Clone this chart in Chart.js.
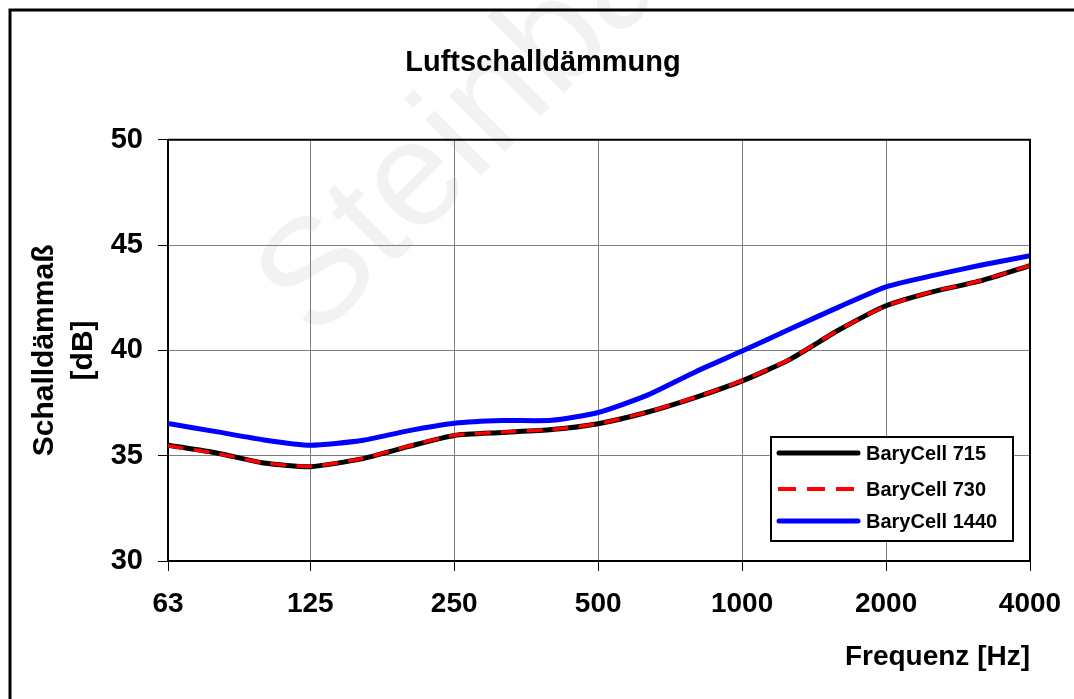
<!DOCTYPE html>
<html>
<head>
<meta charset="utf-8">
<script src="https://cdn.jsdelivr.net/npm/chart.js@4/dist/chart.umd.min.js"></script>
<style>
html,body{margin:0;padding:0;background:#fff;}
#wrap{width:1074px;height:699px;position:relative;}
</style>
</head>
<body>
<div id="wrap"><canvas id="c" width="1074" height="699"></canvas></div>
<script>
const chartTitle = 'Luftschalldämmung';
const yTitle = ['Schalldämmaß', '[dB]'];
const xTitle = 'Frequenz [Hz]';
const xTickValues = [63, 125, 250, 500, 1000, 2000, 4000];
const yTickValues = [30, 35, 40, 45, 50];
const frequencies = [63, 80, 100, 125, 160, 200, 250, 315, 400, 500, 630, 800, 1000, 1250, 1600, 2000, 2500, 3150, 4000];
const seriesNames = ['BaryCell 715', 'BaryCell 730', 'BaryCell 1440'];
const bary715  = [35.50, 35.12, 34.65, 34.48, 34.85, 35.43, 35.96, 36.10, 36.24, 36.52, 37.05, 37.77, 38.55, 39.54, 40.99, 42.12, 42.78, 43.30, 44.03];
const bary730  = [35.47, 35.10, 34.66, 34.49, 34.86, 35.45, 35.97, 36.12, 36.25, 36.52, 37.06, 37.78, 38.56, 39.55, 41.00, 42.11, 42.79, 43.31, 44.04];
const bary1440 = [36.53, 36.13, 35.75, 35.50, 35.72, 36.18, 36.54, 36.67, 36.68, 37.05, 37.85, 38.99, 39.97, 40.98, 42.08, 43.02, 43.55, 44.04, 44.50];

const FONT = "'Liberation Sans', Arial, sans-serif";
const toPoints = vals => frequencies.map((f, i) => ({x: f, y: vals[i]}));

const decorPlugin = {
  id: 'decor',
  beforeDraw(chart) {
    const ctx = chart.ctx;
    ctx.save();
    ctx.fillStyle = '#ffffff';
    ctx.fillRect(0, 0, chart.width, chart.height);
    // watermark
    ctx.translate(315, 342);
    ctx.rotate(-Math.PI / 4);
    ctx.fillStyle = 'rgba(0,0,0,0.05)';
    ctx.font = '150px ' + FONT;
    ctx.textBaseline = 'alphabetic';
    ctx.textAlign = 'left';
    ctx.fillText('Steinbach', 0, 0);
    ctx.restore();
    // outer frame (left and top visible)
    ctx.save();
    ctx.strokeStyle = '#000';
    ctx.lineWidth = 3;
    ctx.beginPath();
    ctx.moveTo(10, chart.height + 5);
    ctx.lineTo(10, 10);
    ctx.lineTo(chart.width + 5, 10);
    ctx.stroke();
    ctx.restore();
  },
  afterDatasetsDraw(chart) {
    const {ctx, chartArea: a} = chart;
    ctx.save();
    ctx.strokeStyle = '#000';
    ctx.lineWidth = 2;
    ctx.beginPath();
    ctx.moveTo(a.left, a.top);
    ctx.lineTo(a.right, a.top);
    ctx.lineTo(a.right, a.bottom);
    ctx.stroke();
    ctx.restore();
  },
  afterDraw(chart) {
    const ctx = chart.ctx;
    const ds = chart.data.datasets;
    ctx.save();
    // legend box
    ctx.fillStyle = '#fff';
    ctx.fillRect(771, 437, 242, 104);
    ctx.strokeStyle = '#000';
    ctx.lineWidth = 2;
    ctx.strokeRect(771, 437, 242, 104);
    const rows = [453, 489, 521];
    ds.forEach((d, i) => {
      const y = rows[i];
      ctx.beginPath();
      ctx.strokeStyle = d.borderColor;
      ctx.lineWidth = d.borderDash ? 4 : d.borderWidth;
      ctx.lineCap = d.borderDash ? 'butt' : 'round';
      ctx.setLineDash(d.borderDash ? [18, 11] : []);
      ctx.moveTo(d.borderDash ? 778 : 779, y);
      ctx.lineTo(858, y);
      ctx.stroke();
      ctx.setLineDash([]);
      ctx.fillStyle = '#000';
      ctx.font = 'bold 20px ' + FONT;
      ctx.textBaseline = 'middle';
      ctx.textAlign = 'left';
      ctx.fillText(d.label, 866, y + 1);
    });
    ctx.restore();
  }
};

new Chart(document.getElementById('c'), {
  type: 'line',
  data: {
    datasets: [
      {label: seriesNames[0], data: toPoints(bary715), borderColor: '#000000', borderWidth: 5, pointRadius: 0, order: 1, tension: 0.2},
      {label: seriesNames[1], data: toPoints(bary730), borderColor: '#ff0000', borderWidth: 3.5, borderDash: [16, 10], pointRadius: 0, order: 0, tension: 0.2},
      {label: seriesNames[2], data: toPoints(bary1440), borderColor: '#0000ff', borderWidth: 5, pointRadius: 0, order: 2, tension: 0.2}
    ]
  },
  options: {
    responsive: false,
    animation: false,
    layout: {padding: {left: 56, right: 44, top: 0, bottom: 0}},
    plugins: {
      legend: {display: false},
      tooltip: {enabled: false},
      title: {
        display: true,
        text: chartTitle,
        color: '#000',
        font: {family: FONT, size: 29, weight: 'bold', lineHeight: 1.2},
        padding: {top: 46, bottom: 59}
      }
    },
    scales: {
      x: {
        type: 'logarithmic',
        min: 63,
        max: 4000,
        afterFit(s) { s.height = 138; s.paddingRight = 0; s.paddingLeft = 0; },
        afterBuildTicks(s) { s.ticks = xTickValues.map(v => ({value: v})); },
        ticks: {
          color: '#000',
          font: {family: FONT, size: 28, weight: 'bold'},
          padding: 16,
          maxRotation: 0,
          autoSkip: false,
          callback: v => String(v)
        },
        grid: {color: '#7f7f7f', lineWidth: 1, tickColor: '#000', tickLength: 10, drawTicks: true},
        border: {color: '#000', width: 2},
        title: {
          display: true,
          text: xTitle,
          align: 'end',
          color: '#000',
          font: {family: FONT, size: 28, weight: 'bold', lineHeight: 1.2},
          padding: {top: 0, bottom: 25}
        }
      },
      y: {
        min: 30,
        max: 50,
        afterFit(s) { s.width = 112; s.paddingTop = 0; s.paddingBottom = 0; },
        afterBuildTicks(s) { s.ticks = yTickValues.map(v => ({value: v})); },
        ticks: {
          color: '#000',
          font: {family: FONT, size: 29, weight: 'bold'},
          padding: 15
        },
        grid: {color: '#7f7f7f', lineWidth: 1, tickColor: '#000', tickLength: 10},
        border: {color: '#000', width: 2},
        title: {
          display: true,
          text: yTitle,
          color: '#000',
          font: {family: FONT, size: 30, weight: 'bold', lineHeight: 1.3},
          padding: {top: -31, bottom: 0}
        }
      }
    }
  },
  plugins: [decorPlugin]
});
</script>
</body>
</html>
